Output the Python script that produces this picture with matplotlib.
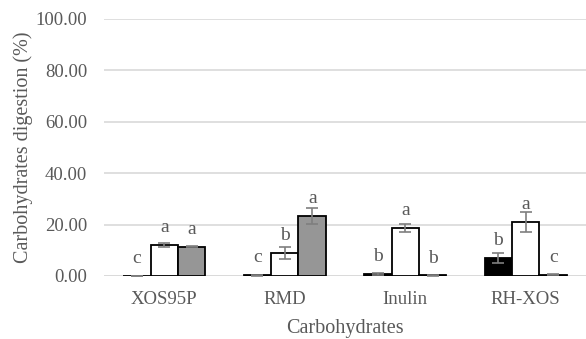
import numpy as np
import matplotlib
matplotlib.use("Agg")
import matplotlib.pyplot as plt

plt.rcParams['font.family'] = ['Liberation Serif', 'DejaVu Serif']

categories = ["XOS95P", "RMD", "Inulin", "RH-XOS"]

black_vals = [0.0, 0.3, 0.8, 7.0]
white_vals = [12.0, 9.0, 18.7, 21.0]
gray_vals = [11.3, 23.3, 0.2, 0.5]

black_err = [0.0, 0.2, 0.3, 2.0]
white_err = [0.8, 2.3, 1.5, 4.0]
gray_err = [0.2, 3.0, 0.1, 0.2]

black_letters = ["c", "c", "b", "b"]
white_letters = ["a", "b", "a", "a"]
gray_letters = ["a", "a", "b", "c"]

yticks = [0, 20, 40, 60, 80, 100]

text_col = "#595959"
grid_col = "#d9d9d9"

fig = plt.figure(figsize=(5.86, 3.39), dpi=100)
ax = fig.add_axes([0.1775, 0.186, 0.8225, 0.758])

x = np.arange(len(categories))
w = 0.228

series = [
    (black_vals, black_err, black_letters, "black", -w),
    (white_vals, white_err, white_letters, "white", 0),
    (gray_vals, gray_err, gray_letters, "#969696", w),
]

for vals, err, letters, col, off in series:
    ax.bar(x + off, vals, w, color=col, edgecolor="black", linewidth=1.3, zorder=3)
    ax.errorbar(x + off, vals, yerr=err, fmt="none", ecolor="#7f7f7f",
                elinewidth=1.2, capsize=4, capthick=1.2, zorder=4)
    for xi, v, t in zip(x + off, vals, letters):
        ax.annotate(t, (xi, v), xytext=(0, 12.5), textcoords="offset points",
                    ha="center", va="center", fontsize=14, color=text_col)

ax.set_ylim(0, 100)
ax.set_xlim(-0.5, 3.5)
ax.set_yticks(yticks)
ax.set_yticklabels(["%.2f" % t for t in yticks])
ax.set_xticks(x)
ax.set_xticklabels(categories)
ax.yaxis.grid(True, color=grid_col, linewidth=1.2, zorder=0)
ax.set_axisbelow(True)
for s in ax.spines.values():
    s.set_visible(False)
ax.axhline(0, color=grid_col, linewidth=1.2, zorder=1)
ax.tick_params(axis="y", length=0, pad=12, labelsize=13.5, labelcolor=text_col)
ax.tick_params(axis="x", length=0, pad=10.5, labelsize=13.5, labelcolor=text_col)

ax.set_xlabel("Carbohydrates", fontsize=14.5, color=text_col, labelpad=8)
ax.set_ylabel("Carbohydrates digestion (%)", fontsize=14.5, color=text_col, labelpad=2)

fig.savefig("out.png", dpi=100)
